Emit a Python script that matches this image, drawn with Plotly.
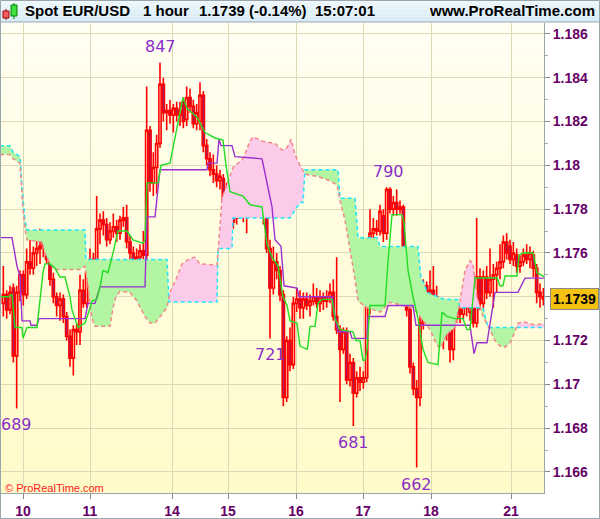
import numpy as np
import plotly.graph_objects as go

# ---------------- data (prices in pips above 1.1000, e.g. 739 -> 1.1739) -------------
opens = [737, 741, 734, 744, 713, 742, 750, 741, 756, 753, 760, 762, 763, 766, 757, 748, 740, 736, 739, 731,
         722, 712, 725, 724, 743, 737, 751, 757, 755, 771, 775, 773, 766, 770, 772, 769, 775, 776, 765, 760,
         756, 758, 761, 759, 816, 792, 799, 810, 837, 824, 825, 823, 826, 823, 829, 821, 831, 827, 819, 820,
         832, 809, 803, 798, 796, 793, 794, 783, 787, 791, 776, 786, 782, 777, 779, 783, 786, 782, 781, 778,
         762, 744, 756, 752, 741, 694, 720, 709, 737, 739, 735, 739, 736, 738, 740, 737, 740, 738, 740, 742,
         731, 725, 716, 724, 702, 710, 696, 703, 701, 703, 736, 769, 771, 770, 777, 769, 789, 780, 783, 780,
         781, 757, 734, 708, 698, 694, 728, 745, 737, 743, 740, 733, 725, 729, 728, 716, 730, 734, 732, 736,
         733, 749, 728, 749, 737, 749, 742, 748, 750, 753, 756, 765, 763, 757, 759, 754, 756, 759, 757, 759,
         753, 742, 740]
highs = [754, 743, 745, 746, 745, 752, 752, 762, 766, 763, 766, 771, 770, 768, 759, 751, 742, 742, 741, 733,
         725, 727, 728, 750, 748, 755, 762, 760, 786, 778, 779, 776, 774, 778, 775, 777, 781, 782, 768, 763,
         762, 764, 770, 836, 818, 806, 814, 847, 840, 828, 830, 828, 829, 829, 831, 836, 835, 830, 828, 838,
         834, 812, 806, 805, 800, 798, 796, 792, 794, 793, 788, 789, 784, 782, 786, 791, 788, 788, 783, 782,
         766, 763, 760, 754, 743, 722, 726, 740, 744, 743, 742, 742, 741, 746, 744, 743, 742, 743, 746, 748,
         758, 727, 726, 726, 714, 712, 706, 708, 706, 742, 780, 776, 775, 782, 780, 790, 790, 786, 789, 784,
         782, 759, 736, 710, 702, 731, 748, 747, 752, 754, 745, 736, 732, 733, 732, 733, 738, 737, 740, 739,
         745, 752, 776, 753, 752, 754, 762, 755, 756, 764, 768, 769, 766, 765, 762, 759, 762, 764, 763, 761,
         755, 746, 744]
lows = [731, 730, 732, 710, 689, 738, 736, 739, 750, 750, 754, 755, 758, 755, 745, 737, 731, 729, 728, 720,
        708, 704, 718, 718, 735, 735, 748, 750, 753, 764, 768, 763, 764, 767, 765, 766, 772, 762, 757, 753,
        749, 756, 757, 756, 788, 786, 787, 808, 820, 816, 819, 815, 820, 818, 817, 818, 824, 817, 816, 816,
        806, 800, 795, 792, 790, 789, 780, 781, 784, 771, 773, 779, 774, 769, 776, 780, 779, 778, 773, 760,
        721, 741, 748, 738, 690, 692, 706, 707, 733, 730, 730, 734, 731, 736, 735, 733, 734, 735, 737, 729,
        723, 692, 714, 700, 699, 681, 694, 697, 698, 701, 732, 766, 768, 768, 765, 766, 778, 777, 777, 778,
        754, 731, 705, 695, 662, 690, 725, 735, 733, 737, 732, 722, 716, 720, 710, 711, 728, 728, 730, 731,
        729, 726, 726, 734, 733, 739, 740, 735, 742, 748, 753, 757, 755, 754, 751, 751, 754, 755, 753, 749,
        737, 735, 736]
closes = [741, 734, 742, 713, 742, 750, 741, 756, 753, 760, 762, 763, 766, 757, 748, 740, 736, 739, 731, 722,
          712, 725, 724, 743, 737, 751, 757, 755, 771, 775, 773, 766, 770, 772, 769, 775, 776, 765, 760, 756,
          758, 761, 759, 816, 792, 799, 810, 837, 824, 825, 823, 826, 823, 825, 820, 831, 827, 819, 824, 832,
          809, 803, 798, 796, 793, 795, 783, 787, 792, 774, 786, 782, 777, 779, 783, 786, 782, 784, 777, 762,
          744, 756, 752, 741, 694, 720, 709, 737, 739, 735, 739, 736, 738, 740, 737, 740, 738, 740, 742, 731,
          725, 716, 724, 702, 710, 696, 703, 701, 703, 736, 769, 771, 770, 779, 769, 789, 780, 783, 780, 781,
          757, 734, 708, 698, 694, 728, 745, 737, 743, 740, 736, 725, 729, 725, 716, 730, 734, 732, 736, 735,
          742, 728, 749, 737, 749, 742, 748, 750, 753, 756, 765, 760, 757, 760, 754, 756, 759, 757, 760, 753,
          742, 740, 739]

# Ichimoku lines as (bar position, pips) breakpoints
tenkan_x = [-1, 1.4, 2.6, 3.5, 5.6, 5.9, 7.1, 10.1, 11.9, 12.5, 14, 15.5, 17, 18.5, 20, 20.6, 22.4, 24.5, 25.4,
            26.6, 28.1, 29, 29.9, 31.4, 32.9, 34.4, 37.1, 38.9, 41.9, 42.5, 43.1, 46.4, 47.3, 50, 51.8, 53.9,
            55.1, 58.1, 60.5, 63.5, 65.9, 66.8, 68, 71.9, 74, 77.6, 79.1, 80.6, 82.4, 83.9, 85.1, 86, 88.1, 89,
            91.1, 91.4, 92, 93.5, 94.4, 95.6, 98.6, 99.5, 101, 104.9, 105.8, 107, 107.9, 108.5, 109.1, 110,
            114.5, 115.4, 116.6, 119.6, 120.2, 121.4, 122.9, 124.4, 125.9, 127.4, 130.4, 131.6, 133.1, 135.5,
            137.9, 139.1, 140, 141.5, 148.1, 149, 149.9, 150.5, 154.1, 154.7, 155.9, 158.9, 160.1, 162.5]
tenkan_v = [740, 740, 741, 726, 726, 721, 726, 726, 751, 755, 755, 753, 749, 749, 740, 734, 726, 728, 732,
            738, 739, 744.5, 752, 751, 760, 770, 770, 766, 764.5, 766, 792, 792, 800, 801, 815, 831,
            826, 822, 815, 812.5, 811.5, 800, 788, 786, 782, 781, 764, 758, 754, 740, 736, 729, 728, 717.5,
            716, 718, 726.5, 726.5, 737, 738.8, 738.8, 730, 725, 724, 720, 720, 711, 711, 716, 736,
            736, 756, 777.5, 777.5, 774, 752, 740, 730, 716, 710, 709, 733, 731, 730,
            730, 725, 725, 748.6, 748.6, 745, 745, 749.5, 749.5, 759, 760, 760, 751, 749]

kijun_x = [-1, 2.6, 4.1, 5, 5.6, 8, 8.3, 10.1, 10.7, 24.5, 25.4, 27.5, 29, 42.5, 43.1, 45.5, 47, 61.1, 61.4,
           64.1, 64.7, 65.3, 68.6, 69.5, 77.6, 80.6, 81.5, 83.3, 84.2, 88.1, 88.7, 98.6, 99.5, 100.4, 104,
           104.6, 109.1, 109.4, 114.5, 115.4, 122.9, 123.8, 140, 141.2, 142.1, 145.1, 147.5, 154.4, 156.5, 162.5]
kijun_v = [767, 767, 754, 749.5, 729, 729, 727, 727, 730, 730, 737, 737, 744.5, 744.5, 776.5, 776.5, 798, 798,
           801, 801, 812, 809, 809, 804, 803, 781, 766, 763, 745, 744, 740, 740, 731, 724, 724,
           721, 721, 731, 731, 736, 736, 727, 727, 714, 719, 719, 742, 742, 748.5, 748.5]

senkou_a_x = [-1, 2, 2.9, 5, 5.6, 6.5, 7.1, 24.5, 24.8, 49.1, 49.7, 64.1, 64.4, 68.6, 68.9, 86, 89, 89.9, 90.5,
              100.4, 101, 105.5, 106.4, 112.1, 113, 124.4, 125.3, 126.5, 127.1, 130.1, 131.9, 136.4, 137,
              143.9, 145.4, 162.5]
senkou_a_v = [809, 809, 806, 804, 790, 775, 770.5, 770.5, 757, 757, 737.6, 737.6, 762, 762, 776, 776, 783, 783,
              798, 798, 785, 785, 767, 767, 763, 763, 748.6, 745, 742, 740, 739, 738.6, 735,
              735, 726, 726]

senkou_b_x = [-1, 2, 2.9, 5, 5.9, 6.5, 7.1, 11.6, 12.5, 14, 15.5, 23, 24.5, 25.4, 26.6, 27.5, 32, 32.9, 33.8,
              35, 38, 40.1, 42.5, 44, 45.5, 47, 49.1, 50, 51.8, 53.6, 56, 57.5, 59, 64.1, 64.7, 65.6, 68.9,
              71.9, 74, 74.9, 77.9, 81.5, 83.6, 85.1, 86.3, 87.5, 89, 90.5, 94.1, 98, 100.1, 101, 102.5, 104,
              105.5, 106.4, 109.1, 113, 116, 119.9, 122.9, 125, 128, 130.1, 131, 133.1, 135.5, 137, 138.5, 140,
              140.9, 142.1, 143.9, 146, 147.5, 149, 150.5, 152, 153.5, 154.4, 156.5, 159.5, 162.5]
senkou_b_v = [805, 805, 803, 801, 780, 771, 766, 765, 760, 755, 752.5, 752.5, 754, 745, 730, 726.5, 726.5, 735,
              740, 742.5, 742, 738, 731, 728, 728, 731, 735, 742, 748, 755, 757.5, 758, 755, 754.5, 766, 785,
              799, 803, 811, 813, 811, 810, 807, 808, 812, 805, 800, 796, 795, 793, 791, 784, 775, 762,
              748, 738, 735, 733, 737.5, 736, 735, 731, 725, 718, 716.5, 723, 726, 738, 752, 756.5,
              755, 740, 731, 725, 720, 717.5, 717, 719, 724, 728, 728.5, 727, 728]

day_pos = [5.9, 26, 50.6, 67.4, 87.8, 107.9, 128.3, 152.3]
day_labels = ["10", "11", "14", "15", "16", "17", "18", "21"]

price_ticks = [1.166, 1.168, 1.170, 1.172, 1.174, 1.176, 1.178, 1.180, 1.182, 1.184, 1.186]
price_labels = ["1.166", "1.168", "1.17", "1.172", "", "1.176", "1.178", "1.18", "1.182", "1.184", "1.186"]

extremes = [(47, 847, "847", "top"), (4, 689, "689", "low"), (80, 721, "721", "low"),
            (115.5, 790, "790", "top"), (105, 681, "681", "low"), (124, 662, "662", "low")]

last_price = 1.1739

# ---------------- helpers ----------------
BASE, PIP = 1.1, 1e-4


def price(v):
    return [BASE + a * PIP for a in v]


bars = list(range(len(opens)))

# figure geometry (pixels) for decorations
W, H = 600, 519
ML, MR, MT, MB = 1, 56, 23, 26
PW, PH = W - ML - MR, H - MT - MB


def pxx(p):
    return (p - ML) / PW


def pxy(p):
    return (H - MB - p) / PH


# ---------------- cloud fill geometry ----------------
grid = np.array(sorted(set(senkou_a_x) | set(senkou_b_x)), dtype=float)
ga0 = np.interp(grid, senkou_a_x, senkou_a_v)
gb0 = np.interp(grid, senkou_b_x, senkou_b_v)
gx, ga, gb = [grid[0]], [ga0[0]], [gb0[0]]
for k in range(1, len(grid)):
    d0 = ga0[k - 1] - gb0[k - 1]
    d1 = ga0[k] - gb0[k]
    if d0 * d1 < 0:
        t = d0 / (d0 - d1)
        xc = grid[k - 1] + t * (grid[k] - grid[k - 1])
        yc = ga0[k - 1] + t * (ga0[k] - ga0[k - 1])
        gx.append(xc); ga.append(yc); gb.append(yc)
    gx.append(grid[k]); ga.append(ga0[k]); gb.append(gb0[k])
upper = np.maximum(ga, gb)

fig = go.Figure()
nl = dict(width=0)
fig.add_trace(go.Scatter(x=gx, y=price(gb), mode="lines", line=nl, hoverinfo="skip", showlegend=False))
fig.add_trace(go.Scatter(x=gx, y=price(upper), mode="lines", line=nl, fill="tonexty",
                         fillcolor="#b2f5a2", hoverinfo="skip", showlegend=False))
fig.add_trace(go.Scatter(x=gx, y=price(ga), mode="lines", line=nl, hoverinfo="skip", showlegend=False))
fig.add_trace(go.Scatter(x=gx, y=price(upper), mode="lines", line=nl, fill="tonexty",
                         fillcolor="#fbcbe9", hoverinfo="skip", showlegend=False))
fig.add_trace(go.Scatter(x=senkou_a_x, y=price(senkou_a_v), mode="lines",
                         line=dict(color="#22e4ff", width=1.5, dash="4px,3px"), showlegend=False))
fig.add_trace(go.Scatter(x=senkou_b_x, y=price(senkou_b_v), mode="lines",
                         line=dict(color="#f08a8a", width=1.5, dash="4px,3px"), showlegend=False))

fig.add_trace(go.Candlestick(
    x=bars, open=price(opens), high=price(highs), low=price(lows), close=price(closes),
    increasing=dict(line=dict(color="#ff0000", width=1.6), fillcolor="rgba(0,0,0,0)"),
    decreasing=dict(line=dict(color="#ff0000", width=1.6), fillcolor="#6a2e9e"),
    whiskerwidth=0, showlegend=False))

fig.add_trace(go.Scatter(x=kijun_x, y=price(kijun_v), mode="lines",
                         line=dict(color="#9b30d0", width=1.4), showlegend=False))
fig.add_trace(go.Scatter(x=tenkan_x, y=price(tenkan_v), mode="lines",
                         line=dict(color="#22dd22", width=1.4), showlegend=False))

# ---------------- decorations ----------------
shapes = []
# plot background gradient
NB = 30
top_c, bot_c = np.array([255, 255, 243]), np.array([255, 251, 200])
for k in range(NB):
    c = top_c + (bot_c - top_c) * (k + 0.5) / NB
    shapes.append(dict(type="rect", xref="paper", yref="paper", x0=0, x1=1,
                       y0=1 - (k + 1) / NB, y1=1 - k / NB, line=dict(width=0),
                       fillcolor="rgb(%d,%d,%d)" % tuple(c.astype(int)), layer="below"))
# title bar gradient
NT = 8
t_top, t_bot = np.array([240, 248, 252]), np.array([212, 234, 245])
for k in range(NT):
    c = t_top + (t_bot - t_top) * (k + 0.5) / NT
    shapes.append(dict(type="rect", xref="paper", yref="paper", x0=pxx(0), x1=pxx(600),
                       y0=pxy(22 * (k + 1) / NT), y1=pxy(22 * k / NT), line=dict(width=0),
                       fillcolor="rgb(%d,%d,%d)" % tuple(c.astype(int)), layer="above"))
shapes.append(dict(type="line", xref="paper", yref="paper", x0=pxx(0), x1=pxx(600),
                   y0=pxy(22), y1=pxy(22), line=dict(color="#9aa6ae", width=1)))
# outer frame
shapes.append(dict(type="rect", xref="paper", yref="paper", x0=pxx(0.5), x1=pxx(599.5),
                   y0=pxy(518.5), y1=pxy(0.5), line=dict(color="#9aa6ae", width=1)))
# small candle icon in the title bar
shapes += [
    dict(type="line", xref="paper", yref="paper", x0=pxx(6), x1=pxx(6), y0=pxy(20), y1=pxy(9),
         line=dict(color="#a00000", width=1)),
    dict(type="rect", xref="paper", yref="paper", x0=pxx(3), x1=pxx(9), y0=pxy(18), y1=pxy(11),
         line=dict(color="#a00000", width=1), fillcolor="#f06060"),
    dict(type="line", xref="paper", yref="paper", x0=pxx(14), x1=pxx(14), y0=pxy(19), y1=pxy(3),
         line=dict(color="#008000", width=1)),
    dict(type="rect", xref="paper", yref="paper", x0=pxx(11), x1=pxx(17), y0=pxy(16), y1=pxy(5),
         line=dict(color="#008000", width=1), fillcolor="#40e040"),
]

annotations = []
tf = dict(family="Liberation Sans, Arial", size=15, color="#000000", weight="bold")
for txt, p in [("Spot EUR/USD", 23), ("1 hour", 141), ("1.1739 (-0.14%)", 197), ("15:07:01", 313)]:
    annotations.append(dict(xref="paper", yref="paper", x=pxx(p), y=pxy(11), text=txt, showarrow=False,
                            xanchor="left", yanchor="middle", font=tf))
annotations.append(dict(xref="paper", yref="paper", x=pxx(597), y=pxy(11), text="www.ProRealTime.com",
                        showarrow=False, xanchor="right", yanchor="middle", font=tf))
annotations.append(dict(xref="paper", yref="paper", x=pxx(3), y=pxy(488), text="© ProRealTime.com",
                        showarrow=False, xanchor="left", yanchor="middle",
                        font=dict(family="Liberation Sans, Arial", size=11, color="#ff2020")))
for bx, v, txt, kind in extremes:
    annotations.append(dict(x=bx, y=BASE + v * PIP, text=txt, showarrow=False,
                            yanchor="bottom" if kind == "top" else "top",
                            yshift=4 if kind == "top" else -5,
                            font=dict(family="DejaVu Sans", size=16, color="#8a2fc8")))
annotations.append(dict(xref="paper", x=pxx(550), y=last_price, yref="y", text="<b>1.1739</b>",
                        showarrow=False, xanchor="left", yanchor="middle", bgcolor="#f5c211",
                        bordercolor="#888888", borderwidth=1, borderpad=2,
                        font=dict(family="Liberation Sans, Arial", size=14, color="#000000")))

axfont = dict(family="Liberation Sans, Arial", size=14, color="#660066", weight="bold")
fig.update_layout(
    width=W, height=H, margin=dict(l=ML, r=MR, t=MT, b=MB, autoexpand=False),
    paper_bgcolor="#ffffff", plot_bgcolor="#fffde6",
    shapes=shapes, annotations=annotations, showlegend=False, hovermode=False,
    boxgap=0.05,
    xaxis=dict(range=[-0.7, 162.2], tickvals=day_pos, ticktext=day_labels, tickfont=axfont,
               showgrid=True, gridcolor="#dcdab6", gridwidth=1, zeroline=False,
               ticks="outside", ticklen=5, tickcolor="#888888", automargin=False,
               showline=True, linecolor="#9aa6ae", mirror=False, rangeslider=dict(visible=False)),
    yaxis=dict(range=[1.16504, 1.18650], side="right", tickvals=price_ticks, ticktext=price_labels,
               tickfont=axfont, showgrid=True, gridcolor="#dcdab6", gridwidth=1, zeroline=False,
               ticks="outside", ticklen=5, tickcolor="#888888", automargin=False,
               minor=dict(dtick=0.001, tick0=1.165, ticks="outside", ticklen=3, tickcolor="#aaaaaa",
                          showgrid=False),
               showline=True, linecolor="#9aa6ae"),
)

fig.write_html("out.html", config={"displayModeBar": False},
               post_script="document.body.style.margin='0px';")
